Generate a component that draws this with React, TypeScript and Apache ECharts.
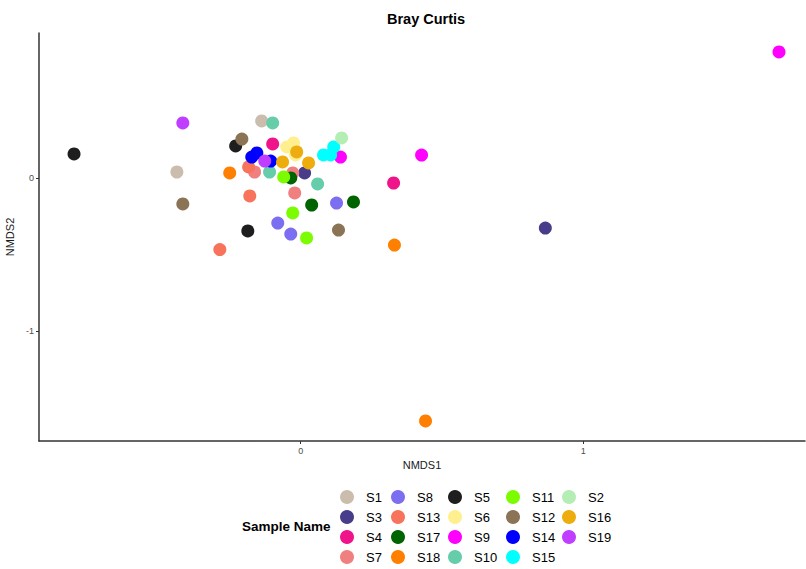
import React, { useEffect, useRef } from "react";
import * as echarts from "echarts";

// NMDS ordination coordinates (Bray–Curtis), one list of [NMDS1, NMDS2] per sample
const sampleNames = [
  "S1", "S3", "S4", "S7", "S8", "S13", "S17", "S18", "S5", "S6",
  "S9", "S10", "S11", "S12", "S14", "S15", "S2", "S16", "S19",
];

const sampleColors: Record<string, string> = {
  S1: "#CBBDAD",
  S3: "#483D8B",
  S4: "#F0148A",
  S7: "#F08080",
  S8: "#7B6EF0",
  S13: "#F8735C",
  S17: "#006400",
  S18: "#FF7F00",
  S5: "#1E1E1E",
  S6: "#FFEF8F",
  S9: "#FF00FF",
  S10: "#66CDAA",
  S11: "#7CFC00",
  S12: "#8B7355",
  S14: "#0000FF",
  S15: "#00FFFF",
  S2: "#B4EEB4",
  S16: "#EEAD0E",
  S19: "#BF3EFF",
};

const S1 = [[-0.438, 0.041], [-0.138, 0.375]];
const S3 = [[0.014, 0.035], [0.866, -0.326]];
const S4 = [[-0.099, 0.225], [0.329, -0.031]];
const S7 = [[-0.163, 0.041], [-0.028, 0.035], [-0.021, -0.096]];
const S8 = [[-0.081, -0.293], [-0.035, -0.365], [0.127, -0.162]];
const S13 = [[-0.286, -0.467], [-0.184, 0.074], [-0.180, -0.116]];
const S17 = [[-0.035, 0.002], [0.039, -0.175], [0.187, -0.155]];
const S18 = [[-0.251, 0.035], [0.332, -0.437], [0.442, -1.589]];
const S5 = [[-0.802, 0.159], [-0.230, 0.212], [-0.187, -0.345]];
const S6 = [[-0.049, 0.205], [-0.025, 0.231], [-0.018, 0.153]];
const S9 = [[0.141, 0.139], [0.428, 0.152], [1.693, 0.827]];
const S10 = [[-0.099, 0.362], [-0.110, 0.041], [0.060, -0.037]];
const S11 = [[-0.060, 0.009], [-0.028, -0.227], [0.021, -0.391]];
const S12 = [[-0.417, -0.168], [-0.208, 0.257], [0.134, -0.339]];
const S14 = [[-0.173, 0.139], [-0.155, 0.166], [-0.106, 0.113]];
const S15 = [[0.081, 0.153], [0.106, 0.153], [0.117, 0.205]];
const S2 = [[0.145, 0.264]];
const S16 = [[-0.064, 0.107], [-0.014, 0.172], [0.028, 0.100]];
const S19 = [[-0.417, 0.362], [-0.127, 0.113]];

const samplePoints: Record<string, number[][]> = {
  S1, S3, S4, S7, S8, S13, S17, S18, S5, S6, S9, S10, S11, S12, S14, S15, S2, S16, S19,
};

// Legend columns (filled top-to-bottom, left-to-right)
const legendColumns = [
  ["S1", "S3", "S4", "S7"],
  ["S8", "S13", "S17", "S18"],
  ["S5", "S6", "S9", "S10"],
  ["S11", "S12", "S14", "S15"],
  ["S2", "S16", "S19"],
];

const xTicks = [0, 1];
const yTicks = [-1, 0];

const FONT = "'Liberation Sans', Arial, Helvetica, sans-serif";

export default function App() {
  const ref = useRef<HTMLDivElement>(null);

  useEffect(() => {
    if (!ref.current) return;
    const chart = echarts.init(ref.current, undefined, { renderer: "svg" });

    const legendLefts = [340, 391, 448, 506, 562];

    const axisLine = { show: true, onZero: false, lineStyle: { color: "#333333", width: 1.5 } };

    chart.setOption({
      animation: false,
      backgroundColor: "#ffffff",
      textStyle: { fontFamily: FONT },
      title: {
        text: "Bray Curtis",
        left: 387,
        top: 11,
        padding: 0,
        textStyle: { fontFamily: FONT, fontSize: 14.5, fontWeight: "bold", color: "#000000" },
      },
      grid: {
        left: 39,
        top: 33,
        right: 1,
        bottom: 128,
        containLabel: false,
        outerBoundsMode: "none",
      },
      xAxis: {
        type: "value",
        min: -0.926,
        max: 1.785,
        name: "NMDS1",
        nameLocation: "middle",
        nameGap: 16,
        nameTextStyle: { fontFamily: FONT, fontSize: 11, color: "#1a1a1a" },
        axisLine,
        axisTick: { show: true, length: 3, customValues: xTicks, lineStyle: { color: "#333333" } },
        axisLabel: { customValues: xTicks, fontSize: 9, color: "#4D4D4D", margin: 5, fontFamily: FONT },
        splitLine: { show: false },
      },
      yAxis: {
        type: "value",
        min: -1.72,
        max: 0.951,
        name: "NMDS2",
        nameLocation: "middle",
        nameGap: 24,
        nameTextStyle: { fontFamily: FONT, fontSize: 11, color: "#1a1a1a" },
        axisLine,
        axisTick: { show: true, length: 3, customValues: yTicks, lineStyle: { color: "#333333" } },
        axisLabel: { customValues: yTicks, fontSize: 9, color: "#4D4D4D", margin: 5, fontFamily: FONT },
        splitLine: { show: false },
      },
      legend: legendColumns.map((col, i) => ({
        data: col.map((name) => ({ name, icon: "circle" })),
        orient: "vertical",
        left: legendLefts[i],
        top: 490,
        itemWidth: 26,
        itemHeight: 14,
        itemGap: 6,
        padding: 0,
        selectedMode: false,
        textStyle: { fontFamily: FONT, fontSize: 13, color: "#000000", padding: [0, 0, 0, 1] },
      })),
      graphic: [
        {
          type: "text",
          left: 242,
          top: 519,
          style: {
            text: "Sample Name",
            fontFamily: FONT,
            fontSize: 13.5,
            fontWeight: "bold",
            fill: "#000000",
          },
        },
      ],
      series: sampleNames.map((name) => ({
        name,
        type: "scatter",
        data: samplePoints[name],
        symbol: "circle",
        symbolSize: 13,
        itemStyle: { color: sampleColors[name], opacity: 1 },
        emphasis: { disabled: true },
      })),
    });

    return () => chart.dispose();
  }, []);

  return (
    <div
      ref={ref}
      style={{ position: "fixed", left: 0, top: 0, width: 806, height: 569 }}
    />
  );
}
